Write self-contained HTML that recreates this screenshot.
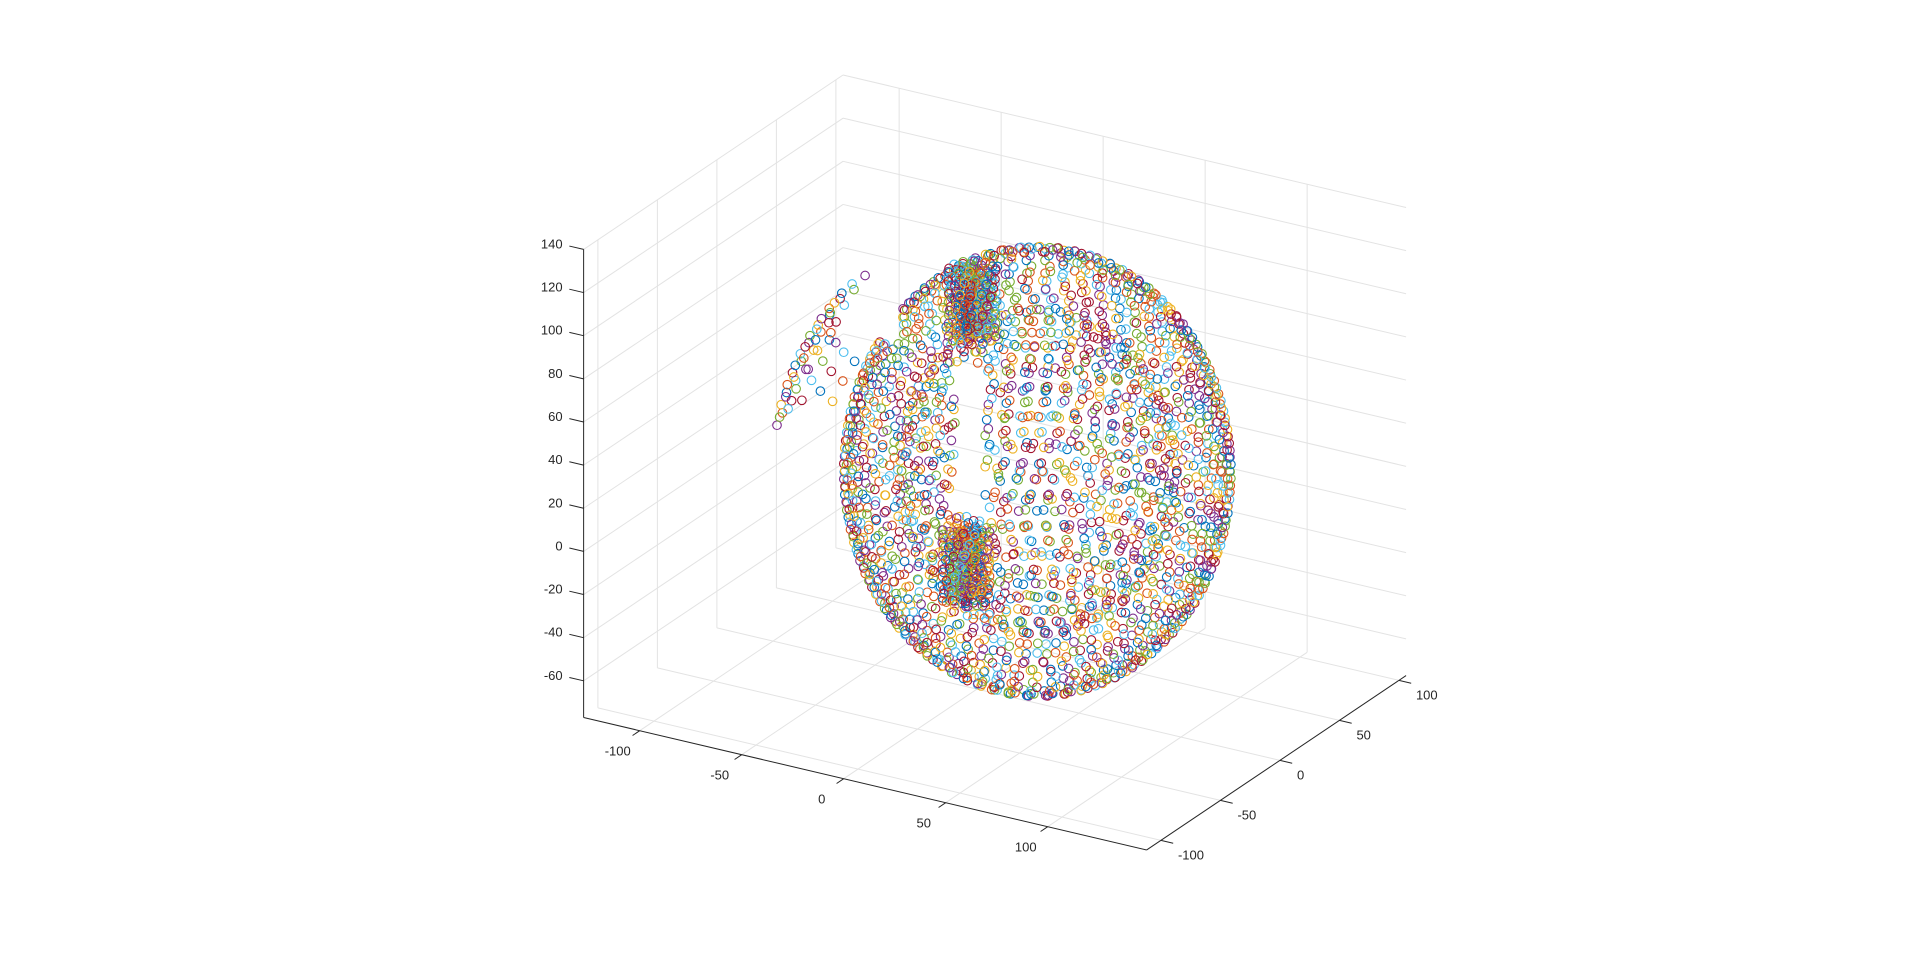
<!DOCTYPE html>
<html><head><meta charset="utf-8"><style>
html,body{margin:0;padding:0;background:#fff;}
svg{display:block;}
text{font-family:"Liberation Sans",Arial,sans-serif;font-size:13px;fill:#262626;}
</style></head><body>
<svg id="chart" width="1920" height="954" viewBox="0 0 1920 954" xmlns="http://www.w3.org/2000/svg">
<g id="grid"></g>
<g id="axes"></g>
<g id="pts"></g>
</svg>
<script>
const xTicks=[-100,-50,0,50,100];
const yTicks=[-100,-50,0,50,100];
const zTicks=[-60,-40,-20,0,20,40,60,80,100,120,140];
const xLim=[-127.5,148.5];
const yLim=[-112,106];
const zLim=[-77,140];
const colors=['#0072BD','#D95319','#EDB120','#7E2F8E','#77AC30','#4DBEEE','#A2142F'];
// body shell (ellipsoid) description
const bodyCenter=[15,25,18];
const bodyRadiusXY=[82];
const bodyRadiusZ=[98];
const ringLat=[-82,-78,-74,-70,-66,-62,-58,-54,-50,-46,-42,-38,-34,-30,-26,-22,-18,-14,-10,-6,-2,2,6,10,14,18,22,26,30,34,38,42,46,50,54,58,62,66,70,74,78,82];
const ringCount=[8,12,16,22,26,30,34,38,42,46,50,52,55,58,60,62,64,65,66,66,66,66,66,66,65,64,62,60,58,55,52,50,46,42,38,34,30,26,22,16,12,8];
// inner shell
const innerScale=[0.72];
const innerLat=[-70,-60,-50,-40,-30,-20,-10,0,10,20,30,40,50,60,70];
const innerCount=[14,20,26,30,34,36,38,38,38,36,34,30,26,20,14];
// ear flap meridians
const earRadius=[112];
const earLon=[-184,-177,-170,-163,-156,-149,-142,-135,-128,-121];
const earLatMin=[16,10,6,8,4,10,14,20,24,28];
const earLatMax=[38,38,38,38,38,38,38,38,38,38];
// pole clusters (column of dense rings)
const clusterCenters=[[-17,25,104],[-20,25,-18]];
const clusterRadii=[1.5,3,5,7,10];
const clusterZOffsets=[0,-5,-10,-15,-20,-25,-30];

const SVGNS='http://www.w3.org/2000/svg';
function px(x,y,z){return 977+2.04*x+1.19*y;}
function py(x,y,z){return 523+0.48*x-0.8*y-2.157*z;}
function line(g,a,b,stroke,name){
  const l=document.createElementNS(SVGNS,'line');
  l.setAttribute('x1',px(...a));l.setAttribute('y1',py(...a));
  l.setAttribute('x2',px(...b));l.setAttribute('y2',py(...b));
  l.setAttribute('stroke',stroke);l.setAttribute('stroke-width','1');
  
  
  g.appendChild(l);
}
function txt(g,x,y,s,anchor,name){
  const t=document.createElementNS(SVGNS,'text');
  t.setAttribute('x',x);t.setAttribute('y',y);t.setAttribute('text-anchor',anchor);
  t.textContent=s;
  
  
  g.appendChild(t);
}
const grid=document.getElementById('grid'),axes=document.getElementById('axes'),pts=document.getElementById('pts');
const gc='#e3e3e3';
const [x0,x1]=xLim,[y0,y1]=yLim,[z0,z1]=zLim;
xTicks.forEach(x=>line(grid,[x,y0,z0],[x,y1,z0],gc,'floor-grid-x'));
yTicks.forEach(y=>line(grid,[x0,y,z0],[x1,y,z0],gc,'floor-grid-y'));
yTicks.forEach(y=>line(grid,[x0,y,z0],[x0,y,z1],gc,'wall-grid-y'));
zTicks.forEach(z=>line(grid,[x0,y0,z],[x0,y1,z],gc,'wall-grid-z'));
xTicks.forEach(x=>line(grid,[x,y1,z0],[x,y1,z1],gc,'wall-grid-x'));
zTicks.forEach(z=>line(grid,[x0,y1,z],[x1,y1,z],gc,'wall2-grid-z'));
const ac='#262626';
line(axes,[x0,y0,z0],[x1,y0,z0],ac,'x-axis-line');
line(axes,[x1,y0,z0],[x1,y1,z0],ac,'y-axis-line');
line(axes,[x0,y0,z0],[x0,y0,z1],ac,'z-axis-line');
xTicks.forEach(x=>{
  line(axes,[x,y0,z0],[x,y0-6,z0],ac,'x-tick');
  txt(axes,px(x,y0,z0)-22,py(x,y0,z0)+25,String(x),'middle','x-tick-label');
});
yTicks.forEach(y=>{
  line(axes,[x1,y,z0],[x1+6,y,z0],ac,'y-tick');
  txt(axes,px(x1,y,z0)+17,py(x1,y,z0)+19,String(y),'start','y-tick-label');
});
zTicks.forEach(z=>{
  line(axes,[x0,y0,z],[x0-7,y0,z],ac,'z-tick');
  txt(axes,px(x0,y0,z)-21,py(x0,y0,z)-1,String(z),'end','z-tick-label');
});
function dot(x,y,z,ci,name){
  const X=px(x,y,z),Y=py(x,y,z);
  const c=document.createElementNS(SVGNS,'circle');
  c.setAttribute('cx',X.toFixed(1));c.setAttribute('cy',Y.toFixed(1));c.setAttribute('r','4.3');
  c.setAttribute('fill','none');c.setAttribute('stroke',colors[((ci%7)+7)%7]);c.setAttribute('stroke-width','1.1');
  
  
  pts.appendChild(c);
  return [X,Y];
}
const D=Math.PI/180;
function shell(lats,counts,scale,phase,name){
  lats.forEach((lat,i)=>{
    const n=counts[i];
    const r=scale*bodyRadiusXY[0]*Math.cos(lat*D), z=bodyCenter[2]+scale*bodyRadiusZ[0]*Math.sin(lat*D);
    for(let k=0;k<n;k++){
      const a=(k/n)*2*Math.PI+i*0.37+phase;
      const x=bodyCenter[0]+r*Math.cos(a), y=bodyCenter[1]+r*Math.sin(a);
      const X=px(x,y,z),Y=py(x,y,z);
      if(X>955&&X<985&&Y>365&&Y<515) continue;
      if(X<900&&Y<340) continue;
      dot(x,y,z,i+k*3+(phase?2:0),name);
    }
  });
}
shell(innerLat,innerCount,innerScale[0],0.9,'inner-point');
shell(ringLat,ringCount,1,0,'body-point');
earLon.forEach((lon,j)=>{
  for(let lat=earLatMax[j],k=0;lat>=earLatMin[j];lat-=5,k++){
    const r=earRadius[0]*Math.cos(lat*D);
    const x=bodyCenter[0]+r*Math.cos(lon*D), y=bodyCenter[1]+r*Math.sin(lon*D), z=bodyCenter[2]+earRadius[0]*Math.sin(lat*D);
    dot(x,y,z,k+j*2+3,'ear-point');
  }
});
clusterCenters.forEach((c,ci)=>{
  clusterZOffsets.forEach((dz,zi)=>{
    clusterRadii.forEach((rr,ri)=>{
      const n=Math.max(4,Math.round(rr*1.3));
      for(let k=0;k<n;k++){
        const a=k/n*2*Math.PI+ri*0.5+zi*0.7;
        dot(c[0]+rr*Math.cos(a),c[1]+rr*Math.sin(a),c[2]+dz,(ci?zi:zi+3)+k,'cluster-point');
      }
    });
  });
});
</script>
</body></html>
